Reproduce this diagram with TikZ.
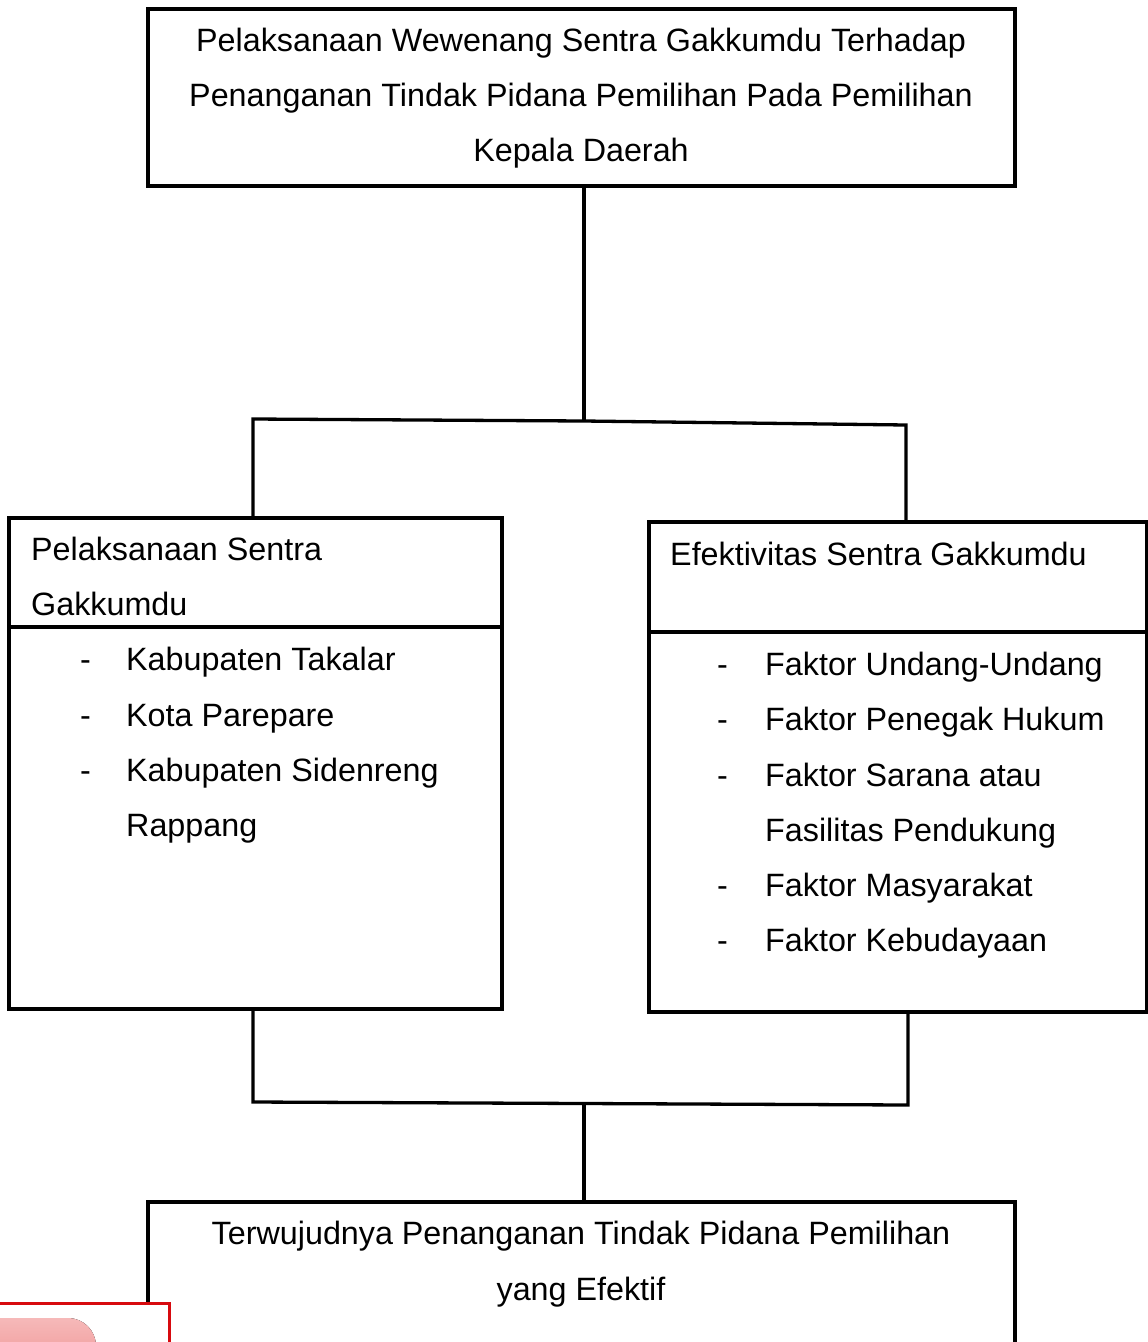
\documentclass[tikz,border=0pt]{standalone}
\usepackage{fontspec}
\setmainfont{Liberation Sans}
\begin{document}
\begin{tikzpicture}[x=1pt,y=-1pt,
  box/.style={draw=black,line width=3.3pt,fill=white,inner sep=0pt,rectangle},
  txt/.style={inner sep=0pt,font=\fontsize{32.3}{38}\selectfont},
  conn/.style={draw=black,line width=3.3pt},
  divider/.style={draw=black,line width=4.8pt}]
\useasboundingbox (0,0) rectangle (1148,1342);
\clip (0,0) rectangle (1148,1342);
% boxes
\node[box,minimum width=867pt,minimum height=177pt] (top) at (581.5,97.5) {};
\node[box,minimum width=493pt,minimum height=491pt] (left) at (255.5,763.5) {};
\node[box,minimum width=497.5pt,minimum height=490pt] (right) at (897.75,767) {};
\node[box,minimum width=867pt,minimum height=198pt] (bottom) at (581.5,1301) {};
% dividers
\draw[divider] (left.west |- 0,627) -- (left.east |- 0,627);
\draw[divider] (right.west |- 0,632) -- (right.east |- 0,632);
% junction coordinates
\coordinate (tj) at (584,421);
\coordinate (lj) at (253,419);
\coordinate (rj) at (906,425);
\coordinate (lb) at (253,1102);
\coordinate (rb) at (908,1105);
\coordinate (bj) at (584,1103.5);
% connectors
\draw[conn] (top.south -| tj) -- (tj);
\draw[conn] (lj |- left.north) -- (lj) -- (tj) -- (rj) -- (rj |- right.north);
\draw[conn] (lb |- left.south) -- (lb) -- (bj) -- (rb) -- (rb |- right.south);
\draw[conn] (bj) -- (bj |- bottom.north);
% top text
\node[txt,anchor=base] (t1) at (581,51) {Pelaksanaan Wewenang Sentra Gakkumdu Terhadap};
\node[txt,anchor=base] (t2) at (581,106) {Penanganan Tindak Pidana Pemilihan Pada Pemilihan};
\node[txt,anchor=base] (t3) at (581,161) {Kepala Daerah};
% left text
\node[txt,anchor=base west] (l1) at (31,560) {Pelaksanaan Sentra};
\node[txt,anchor=base west] (l2) at (31,615) {Gakkumdu};
\node[txt,anchor=base west] (ld1) at (80,670) {-};
\node[txt,anchor=base west] (li1) at (126,670) {Kabupaten Takalar};
\node[txt,anchor=base west] (ld2) at (80,726) {-};
\node[txt,anchor=base west] (li2) at (126,726) {Kota Parepare};
\node[txt,anchor=base west] (ld3) at (80,781) {-};
\node[txt,anchor=base west] (li3) at (126,781) {Kabupaten Sidenreng};
\node[txt,anchor=base west] (li4) at (126,836) {Rappang};
% right text
\node[txt,anchor=base west] (r1) at (670,565) {Efektivitas Sentra Gakkumdu};
\node[txt,anchor=base west] (rd1) at (717,675) {-};
\node[txt,anchor=base west] (ri1) at (765,675) {Faktor Undang-Undang};
\node[txt,anchor=base west] (rd2) at (717,730) {-};
\node[txt,anchor=base west] (ri2) at (765,730) {Faktor Penegak Hukum};
\node[txt,anchor=base west] (rd3) at (717,786) {-};
\node[txt,anchor=base west] (ri3) at (765,786) {Faktor Sarana atau};
\node[txt,anchor=base west] (ri4) at (765,841) {Fasilitas Pendukung};
\node[txt,anchor=base west] (rd5) at (717,896) {-};
\node[txt,anchor=base west] (ri5) at (765,896) {Faktor Masyarakat};
\node[txt,anchor=base west] (rd6) at (717,951) {-};
\node[txt,anchor=base west] (ri6) at (765,951) {Faktor Kebudayaan};
% bottom text
\node[txt,anchor=base] (b1) at (581,1244) {Terwujudnya Penanganan Tindak Pidana Pemilihan};
\node[txt,anchor=base] (b2) at (581,1300) {yang Efektif};
% red artifact at bottom-left
\definecolor{artred}{RGB}{215,10,15}
\definecolor{artpinkA}{RGB}{246,185,185}
\definecolor{artpinkB}{RGB}{236,130,130}
\fill[white] (-5,1303) rectangle (169,1360);
\fill[top color=artpinkA,bottom color=artpinkB,rounded corners=28pt] (-40,1318) rectangle (96,1400);
\draw[artred,line width=3pt] (-5,1303) -- (169,1303) -- (169,1360);
\end{tikzpicture}
\end{document}
